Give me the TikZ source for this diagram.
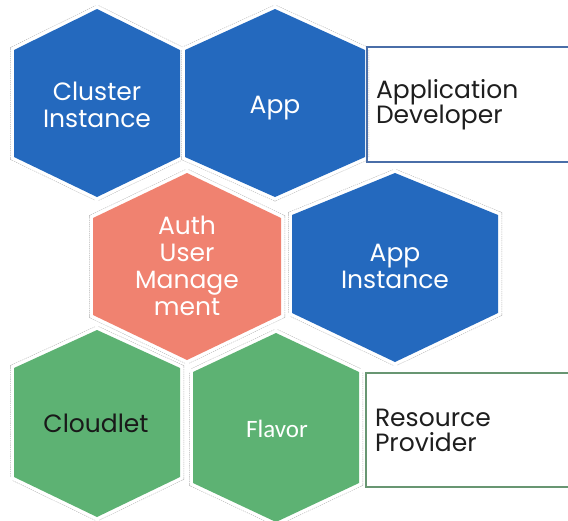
\documentclass[tikz,border=0pt]{standalone}
\usepackage{fontspec}
\setmainfont{Poppins}
\newfontfamily\calib{Carlito}
\definecolor{hblue}{RGB}{36,105,190}
\definecolor{hsalmon}{RGB}{240,130,112}
\definecolor{hgreen}{RGB}{93,178,115}
\definecolor{bblue}{RGB}{74,110,168}
\definecolor{bgreen}{RGB}{104,150,114}
\definecolor{dtext}{RGB}{30,30,30}
% cx, top, bottom, half width, top-to-shoulder, shoulder-to-bottom
\newcommand\hexpath[6]{(#1,#2) -- ({#1+#4},{#2+#5}) -- ({#1+#4},{#3-#6}) -- (#1,#3) -- ({#1-#4},{#3-#6}) -- ({#1-#4},{#2+#5}) -- cycle}
\tikzset{
  hexrim/.style={draw=gray!60, line width=8pt, dash pattern=on 1.3pt off 0.9pt, line join=miter},
  hexgap/.style={draw=white, line width=7pt, line join=miter},
  hextext/.style={text=white, align=center, inner sep=0pt, font=\fontsize{25}{27}\selectfont},
  rolebox/.style={line width=2pt, anchor=north west, text width=190pt, inner xsep=9pt,
    align=left, text=dtext, font=\fontsize{25}{25}\selectfont}
}
\begin{document}
\begin{tikzpicture}[x=1pt, y=-1pt]
\useasboundingbox (0,0) rectangle (568,520);
% rims
\foreach \cx/\t/\b/\hw/\sa/\sb in {97/9/197/83/41/40, 275/9/197/90/41/40, 187/173/360/94/45/45,
    395/173/362/103/42/49, 97/330/517/83/38/40, 276/333/522/83/39/39}{
  \draw[hexrim] \hexpath{\cx}{\t}{\b}{\hw}{\sa}{\sb};
  \draw[hexgap] \hexpath{\cx}{\t}{\b}{\hw}{\sa}{\sb};
}
% fills
\foreach \cx/\t/\b/\hw/\sa/\sb/\col in {97/9/197/83/41/40/hblue, 275/9/197/90/41/40/hblue,
    187/173/360/94/45/45/hsalmon, 395/173/362/103/42/49/hblue,
    97/330/517/83/38/40/hgreen, 276/333/522/83/39/39/hgreen}{
  \fill[\col] \hexpath{\cx}{\t}{\b}{\hw}{\sa}{\sb};
}
% hexagon labels (base anchor = baseline of last line)
\node[hextext, anchor=base] (cluster) at (97,127) {Cluster\\Instance};
\node[hextext, anchor=base] (app) at (275,113) {App};
\node[hextext, anchor=base, font=\fontsize{25}{26.7}\selectfont] (auth) at (187,315) {Auth\\User\\Manage\\ment};
\node[hextext, anchor=base] (appinst) at (395,288) {App\\Instance};
\node[hextext, anchor=base, text=black!90] (cloudlet) at (96,432) {Cloudlet};
\node[hextext, anchor=base, font=\calib\fontsize{25}{27}\selectfont] (flavor) at (277,437) {Flavor};
% role boxes
\node[rolebox, draw=bblue, minimum height=115pt] (dev) at (366,46) {Application\\Developer};
\node[rolebox, draw=bgreen, minimum height=114pt] (res) at (365,372) {Resource\\Provider};
\end{tikzpicture}
\end{document}
